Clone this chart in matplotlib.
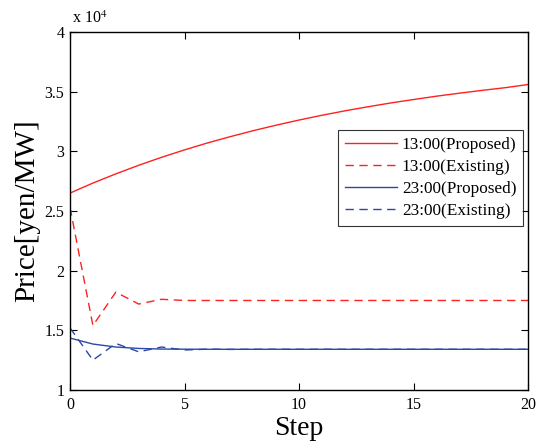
import numpy as np
import matplotlib
matplotlib.use("Agg")
import matplotlib.pyplot as plt

plt.rcParams['font.family'] = ['Liberation Serif', 'DejaVu Serif']
plt.rcParams['mathtext.fontset'] = 'stix'

steps = np.arange(21)

# prices in units of 1e4 yen/MW
p13_proposed = [2.650, 2.734, 2.811, 2.883, 2.950, 3.012, 3.070, 3.123, 3.173, 3.219, 3.262,
                3.302, 3.339, 3.373, 3.405, 3.434, 3.462, 3.487, 3.511, 3.533, 3.560]
p13_existing = [2.53, 1.54, 1.82, 1.72, 1.76, 1.75, 1.75, 1.75, 1.75, 1.75, 1.75,
                1.75, 1.75, 1.75, 1.75, 1.75, 1.75, 1.75, 1.75, 1.75, 1.75]
p23_proposed = [1.435, 1.385, 1.360, 1.348, 1.343, 1.342, 1.341, 1.341, 1.341, 1.341, 1.341,
                1.341, 1.341, 1.341, 1.341, 1.341, 1.341, 1.341, 1.341, 1.341, 1.341]
p23_existing = [1.52, 1.25, 1.39, 1.32, 1.36, 1.335, 1.342, 1.340, 1.341, 1.341, 1.341,
                1.341, 1.341, 1.341, 1.341, 1.341, 1.341, 1.341, 1.341, 1.341, 1.341]

red = '#FF2020'
blue = '#2A48A8'

fig = plt.figure(figsize=(5.44, 4.48), dpi=100)
ax = fig.add_axes([0.1287, 0.1295, 0.8419, 0.7991])

ax.plot(steps, p13_proposed, '-', c=red, lw=1.0, label='13:00(Proposed)')
ax.plot(steps, p13_existing, '--', c=red, lw=1.0, dashes=(6, 4), label='13:00(Existing)')
ax.plot(steps, p23_proposed, '-', c=blue, lw=1.0, label='23:00(Proposed)')
ax.plot(steps, p23_existing, '--', c=blue, lw=1.0, dashes=(6, 4), label='23:00(Existing)')

ax.set_xlim(0, 20)
ax.set_ylim(1, 4)
ax.set_xticks([0, 5, 10, 15, 20])
ax.set_yticks([1, 1.5, 2, 2.5, 3, 3.5, 4])
ax.set_yticklabels(['1', '1.5', '2', '2.5', '3', '3.5', '4'])
ax.tick_params(direction='in', top=True, right=True, length=5, width=0.8, labelsize=11.5)
ax.tick_params(axis='x', pad=5)
ax.tick_params(axis='y', pad=4)
for s in ax.spines.values():
    s.set_linewidth(1.0)

ax.text(0.004, 1.014, r'x 10$^{4}$', transform=ax.transAxes, fontsize=11.5, ha='left', va='bottom')

ax.set_xlabel('Step', fontsize=20, labelpad=2)
ax.set_ylabel('Price[yen/MW]', fontsize=21, labelpad=3)

leg = ax.legend(loc='upper right', bbox_to_anchor=(0.990, 0.727), fontsize=12.4, frameon=True,
                fancybox=False, edgecolor='black', handlelength=3.0, borderpad=0.4,
                labelspacing=0.36, handletextpad=0.3, borderaxespad=0.0)
leg.get_frame().set_linewidth(0.8)

fig.savefig('out.png', dpi=100)
